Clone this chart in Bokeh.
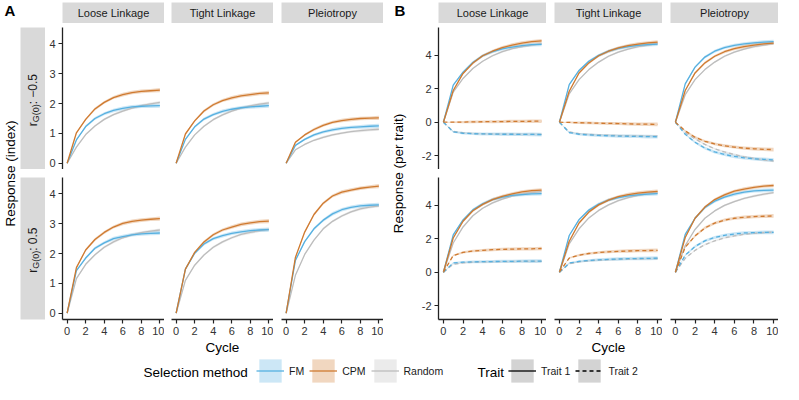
import math
from bokeh.plotting import figure
from bokeh.models import Range1d, FixedTicker, Label, Legend, LegendItem
from bokeh.layouts import row, column
from bokeh.embed import file_html
from bokeh.resources import INLINE

# ---------------- data ----------------
cycles = [0, 1, 2, 3, 4, 5, 6, 7, 8, 9, 10]
methods = ["FM", "CPM", "Random"]
architectures = ["Loose Linkage", "Tight Linkage", "Pleiotropy"]
rg_labels = ["\u22120.5", "0.5"]
traits = ["Trait 1", "Trait 2"]
x_ticks = [0, 2, 4, 6, 8, 10]
yA_ticks = [0, 1, 2, 3, 4]
yB_ticks = [-2, 0, 2, 4]

# Panel A: response (index), r_G(0) = -0.5
A_neg_loose_FM = [0, 0.78, 1.23, 1.50, 1.66, 1.77, 1.84, 1.89, 1.91, 1.92, 1.93]
A_neg_loose_CPM = [0, 1.02, 1.47, 1.82, 2.04, 2.20, 2.30, 2.37, 2.41, 2.43, 2.45]
A_neg_loose_Random = [0, 0.54, 0.96, 1.25, 1.47, 1.63, 1.75, 1.85, 1.93, 1.99, 2.04]
A_neg_tight_FM = [0, 0.80, 1.22, 1.48, 1.63, 1.74, 1.81, 1.86, 1.89, 1.91, 1.93]
A_neg_tight_CPM = [0, 0.98, 1.42, 1.75, 1.96, 2.10, 2.19, 2.26, 2.30, 2.34, 2.36]
A_neg_tight_Random = [0, 0.54, 0.95, 1.24, 1.46, 1.62, 1.75, 1.85, 1.92, 1.98, 2.02]
A_neg_plei_FM = [0, 0.60, 0.80, 0.95, 1.05, 1.12, 1.17, 1.20, 1.22, 1.24, 1.25]
A_neg_plei_CPM = [0, 0.70, 0.95, 1.13, 1.27, 1.37, 1.43, 1.47, 1.50, 1.51, 1.52]
A_neg_plei_Random = [0, 0.45, 0.63, 0.77, 0.87, 0.95, 1.01, 1.06, 1.09, 1.12, 1.14]
# Panel A: r_G(0) = 0.5
A_pos_loose_FM = [0, 1.43, 1.85, 2.18, 2.36, 2.50, 2.57, 2.63, 2.66, 2.68, 2.69]
A_pos_loose_CPM = [0, 1.53, 2.12, 2.47, 2.71, 2.89, 3.01, 3.08, 3.12, 3.15, 3.17]
A_pos_loose_Random = [0, 1.16, 1.64, 1.96, 2.21, 2.39, 2.53, 2.63, 2.70, 2.75, 2.79]
A_pos_tight_FM = [0, 1.48, 2.01, 2.32, 2.50, 2.60, 2.68, 2.73, 2.77, 2.79, 2.80]
A_pos_tight_CPM = [0, 1.48, 2.04, 2.39, 2.63, 2.79, 2.89, 2.98, 3.03, 3.07, 3.09]
A_pos_tight_Random = [0, 1.10, 1.61, 1.95, 2.21, 2.39, 2.53, 2.64, 2.71, 2.77, 2.81]
A_pos_plei_FM = [0, 1.77, 2.40, 2.83, 3.12, 3.33, 3.47, 3.55, 3.60, 3.62, 3.63]
A_pos_plei_CPM = [0, 1.87, 2.72, 3.31, 3.69, 3.93, 4.06, 4.13, 4.19, 4.23, 4.26]
A_pos_plei_Random = [0, 1.27, 1.97, 2.45, 2.83, 3.08, 3.26, 3.40, 3.50, 3.56, 3.60]

# Panel B: response per trait, r_G(0) = -0.5
B_neg_loose_FM_t1 = [0, 2.22, 3.00, 3.58, 3.98, 4.22, 4.39, 4.50, 4.58, 4.64, 4.66]
B_neg_loose_CPM_t1 = [0, 1.90, 2.92, 3.54, 3.98, 4.25, 4.47, 4.62, 4.74, 4.82, 4.87]
B_neg_loose_Random_t1 = [0, 1.80, 2.62, 3.22, 3.65, 3.98, 4.22, 4.40, 4.53, 4.62, 4.70]
B_neg_loose_FM_t2 = [0, -0.58, -0.66, -0.69, -0.70, -0.71, -0.72, -0.72, -0.73, -0.73, -0.74]
B_neg_loose_CPM_t2 = [0, 0.00, 0.01, 0.02, 0.03, 0.03, 0.04, 0.05, 0.05, 0.06, 0.06]
B_neg_loose_Random_t2 = [0, -0.55, -0.63, -0.67, -0.69, -0.70, -0.71, -0.72, -0.72, -0.73, -0.73]
B_neg_tight_FM_t1 = [0, 2.25, 3.10, 3.65, 4.00, 4.25, 4.42, 4.53, 4.60, 4.65, 4.68]
B_neg_tight_CPM_t1 = [0, 1.85, 2.95, 3.55, 3.98, 4.25, 4.45, 4.58, 4.68, 4.75, 4.80]
B_neg_tight_Random_t1 = [0, 1.70, 2.55, 3.15, 3.60, 3.95, 4.20, 4.38, 4.52, 4.62, 4.70]
B_neg_tight_FM_t2 = [0, -0.62, -0.72, -0.76, -0.79, -0.81, -0.83, -0.84, -0.85, -0.86, -0.87]
B_neg_tight_CPM_t2 = [0, -0.01, -0.03, -0.04, -0.06, -0.07, -0.08, -0.10, -0.11, -0.12, -0.13]
B_neg_tight_Random_t2 = [0, -0.58, -0.68, -0.73, -0.76, -0.78, -0.80, -0.81, -0.82, -0.83, -0.84]
B_neg_plei_FM_t1 = [0, 2.30, 3.30, 3.90, 4.25, 4.47, 4.60, 4.69, 4.75, 4.80, 4.83]
B_neg_plei_CPM_t1 = [0, 1.90, 2.95, 3.55, 3.95, 4.22, 4.40, 4.53, 4.62, 4.69, 4.74]
B_neg_plei_Random_t1 = [0, 1.65, 2.55, 3.15, 3.60, 3.95, 4.20, 4.38, 4.52, 4.62, 4.70]
B_neg_plei_FM_t2 = [0, -0.72, -1.20, -1.55, -1.78, -1.93, -2.05, -2.13, -2.19, -2.22, -2.26]
B_neg_plei_CPM_t2 = [0, -0.52, -0.90, -1.14, -1.30, -1.41, -1.49, -1.55, -1.59, -1.62, -1.64]
B_neg_plei_Random_t2 = [0, -0.62, -1.00, -1.33, -1.59, -1.78, -1.93, -2.07, -2.17, -2.26, -2.32]
# Panel B: r_G(0) = 0.5
B_pos_loose_FM_t1 = [0, 2.23, 3.13, 3.73, 4.10, 4.35, 4.50, 4.60, 4.65, 4.69, 4.71]
B_pos_loose_CPM_t1 = [0, 2.05, 3.05, 3.68, 4.06, 4.35, 4.54, 4.69, 4.81, 4.88, 4.92]
B_pos_loose_Random_t1 = [0, 1.75, 2.71, 3.38, 3.83, 4.15, 4.38, 4.56, 4.67, 4.77, 4.83]
B_pos_loose_FM_t2 = [0, 0.56, 0.60, 0.62, 0.63, 0.64, 0.65, 0.65, 0.66, 0.66, 0.67]
B_pos_loose_CPM_t2 = [0, 1.00, 1.19, 1.27, 1.31, 1.35, 1.37, 1.38, 1.40, 1.40, 1.42]
B_pos_loose_Random_t2 = [0, 0.48, 0.56, 0.60, 0.62, 0.63, 0.64, 0.64, 0.65, 0.65, 0.65]
B_pos_tight_FM_t1 = [0, 2.20, 3.15, 3.72, 4.08, 4.32, 4.47, 4.57, 4.63, 4.67, 4.70]
B_pos_tight_CPM_t1 = [0, 1.85, 2.95, 3.60, 4.03, 4.32, 4.52, 4.65, 4.74, 4.80, 4.84]
B_pos_tight_Random_t1 = [0, 1.70, 2.60, 3.25, 3.70, 4.03, 4.28, 4.46, 4.60, 4.70, 4.77]
B_pos_tight_FM_t2 = [0, 0.55, 0.65, 0.70, 0.74, 0.77, 0.79, 0.81, 0.82, 0.83, 0.84]
B_pos_tight_CPM_t2 = [0, 0.85, 1.02, 1.12, 1.18, 1.22, 1.25, 1.27, 1.29, 1.30, 1.31]
B_pos_tight_Random_t2 = [0, 0.50, 0.62, 0.68, 0.72, 0.75, 0.77, 0.79, 0.80, 0.81, 0.82]
B_pos_plei_FM_t1 = [0, 2.27, 3.23, 3.87, 4.25, 4.50, 4.67, 4.79, 4.87, 4.90, 4.92]
B_pos_plei_CPM_t1 = [0, 2.08, 3.23, 3.90, 4.35, 4.63, 4.85, 4.98, 5.08, 5.15, 5.19]
B_pos_plei_Random_t1 = [0, 1.60, 2.56, 3.23, 3.67, 4.00, 4.23, 4.42, 4.56, 4.67, 4.77]
B_pos_plei_FM_t2 = [0, 1.02, 1.54, 1.88, 2.08, 2.21, 2.29, 2.35, 2.37, 2.38, 2.38]
B_pos_plei_CPM_t2 = [0, 1.50, 2.17, 2.65, 2.94, 3.12, 3.23, 3.29, 3.33, 3.35, 3.37]
B_pos_plei_Random_t2 = [0, 0.83, 1.31, 1.65, 1.88, 2.06, 2.17, 2.27, 2.33, 2.37, 2.40]

# standard errors (ribbon half-widths)
A_se_FM = [0, 0.03, 0.04, 0.05, 0.05, 0.06, 0.06, 0.06, 0.06, 0.07, 0.07]
A_se_CPM = [0, 0.03, 0.04, 0.05, 0.05, 0.05, 0.06, 0.06, 0.06, 0.06, 0.07]
A_se_Random = [0, 0.02, 0.03, 0.03, 0.04, 0.04, 0.04, 0.04, 0.05, 0.05, 0.05]
B_se_FM = [0, 0.05, 0.07, 0.08, 0.09, 0.09, 0.10, 0.10, 0.10, 0.11, 0.11]
B_se_CPM = [0, 0.05, 0.07, 0.08, 0.08, 0.09, 0.09, 0.10, 0.10, 0.10, 0.11]
B_se_Random = [0, 0.03, 0.04, 0.05, 0.05, 0.06, 0.06, 0.06, 0.07, 0.07, 0.07]

A_series = [
    [{"FM": A_neg_loose_FM, "CPM": A_neg_loose_CPM, "Random": A_neg_loose_Random},
     {"FM": A_neg_tight_FM, "CPM": A_neg_tight_CPM, "Random": A_neg_tight_Random},
     {"FM": A_neg_plei_FM, "CPM": A_neg_plei_CPM, "Random": A_neg_plei_Random}],
    [{"FM": A_pos_loose_FM, "CPM": A_pos_loose_CPM, "Random": A_pos_loose_Random},
     {"FM": A_pos_tight_FM, "CPM": A_pos_tight_CPM, "Random": A_pos_tight_Random},
     {"FM": A_pos_plei_FM, "CPM": A_pos_plei_CPM, "Random": A_pos_plei_Random}],
]
B_series = [
    [{"FM": (B_neg_loose_FM_t1, B_neg_loose_FM_t2), "CPM": (B_neg_loose_CPM_t1, B_neg_loose_CPM_t2),
      "Random": (B_neg_loose_Random_t1, B_neg_loose_Random_t2)},
     {"FM": (B_neg_tight_FM_t1, B_neg_tight_FM_t2), "CPM": (B_neg_tight_CPM_t1, B_neg_tight_CPM_t2),
      "Random": (B_neg_tight_Random_t1, B_neg_tight_Random_t2)},
     {"FM": (B_neg_plei_FM_t1, B_neg_plei_FM_t2), "CPM": (B_neg_plei_CPM_t1, B_neg_plei_CPM_t2),
      "Random": (B_neg_plei_Random_t1, B_neg_plei_Random_t2)}],
    [{"FM": (B_pos_loose_FM_t1, B_pos_loose_FM_t2), "CPM": (B_pos_loose_CPM_t1, B_pos_loose_CPM_t2),
      "Random": (B_pos_loose_Random_t1, B_pos_loose_Random_t2)},
     {"FM": (B_pos_tight_FM_t1, B_pos_tight_FM_t2), "CPM": (B_pos_tight_CPM_t1, B_pos_tight_CPM_t2),
      "Random": (B_pos_tight_Random_t1, B_pos_tight_Random_t2)},
     {"FM": (B_pos_plei_FM_t1, B_pos_plei_FM_t2), "CPM": (B_pos_plei_CPM_t1, B_pos_plei_CPM_t2),
      "Random": (B_pos_plei_Random_t1, B_pos_plei_Random_t2)}],
]
A_se = {"FM": A_se_FM, "CPM": A_se_CPM, "Random": A_se_Random}
B_se = {"FM": B_se_FM, "CPM": B_se_CPM, "Random": B_se_Random}

# ---------------- style ----------------
FONT = "Liberation Sans"
STRIP = "#D9D9D9"
COL = {"FM": "#56B0E0", "CPM": "#CF7A30", "Random": "#BDBDBD"}
TRAIT_DASH = {"Trait 1": "solid", "Trait 2": "4 3"}
DRAW_ORDER = ["Random", "FM", "CPM"]
NAN = float("nan")

FH = 142          # panel frame height
STRIP_H = 23
TOP_GAP = 4
ROW_GAP = 8
BOTTOM_B = 38
TOTAL_H = STRIP_H + TOP_GAP + FH + ROW_GAP + FH + BOTTOM_B

CW = {"r": 0.333, "G": 0.778, "(": 0.333, ")": 0.333, " ": 0.278, ":": 0.278,
      "\u2212": 0.584, ".": 0.278}


def tw(s, size):
    return sum(CW.get(c, 0.556) for c in s) * size


def blank(w, h, lb=0, rb=0, tb=0, bb=0, bg="white", xr=(0, 1), yr=(0, 1)):
    p = figure(width=w, height=h, title=None, x_range=Range1d(*xr), y_range=Range1d(*yr),
               x_axis_location=None, y_axis_location=None, toolbar_location=None,
               output_backend="svg", min_border_left=lb, min_border_right=rb,
               min_border_top=tb, min_border_bottom=bb)
    p.outline_line_color = None
    p.background_fill_color = bg
    p.border_fill_color = "white"
    p.grid.visible = False
    return p


def col_strip(lb, fw, text):
    p = blank(lb + fw, STRIP_H, lb=lb, tb=2, bg=STRIP)
    p.add_layout(Label(x=0.5, y=0.5, text=text, text_align="center", text_baseline="middle",
                       text_font=FONT, text_font_size="11px", text_color="#1A1A1A"))
    return p


def row_strip(tb, bb, rg):
    p = blank(25, tb + FH + bb, tb=tb, bb=bb, bg=STRIP, xr=(0, 25), yr=(0, FH))
    parts = [("r", 12, 0), ("G(0)", 9, 3.5), (" : " + rg, 12, 0)]
    total = sum(tw(s, sz) for s, sz, _ in parts)
    y = FH / 2 - total / 2
    for s, sz, dx in parts:
        p.add_layout(Label(x=12 + dx, y=y, text=s, angle=math.pi / 2, text_align="left",
                           text_baseline="middle", text_font=FONT,
                           text_font_size=f"{sz}px", text_color="#1A1A1A"))
        y += tw(s, sz)
    return p


def panel(lb, fw, tb, bb, yr, yticks, left, bottom, xlabel):
    p = figure(width=lb + fw, height=tb + FH + bb, title=None,
               x_range=Range1d(-0.5, 10.5), y_range=Range1d(*yr),
               x_axis_location="below" if bottom else None,
               y_axis_location="left" if left else None,
               toolbar_location=None, output_backend="svg",
               min_border_left=lb, min_border_right=0, min_border_top=tb, min_border_bottom=bb)
    p.outline_line_color = None
    p.grid.visible = False
    p.background_fill_color = "white"
    p.border_fill_color = "white"
    for ax in p.axis:
        ax.axis_line_color = "#222222"
        ax.axis_line_width = 1.3
        ax.major_tick_line_color = "#222222"
        ax.major_tick_line_width = 1.2
        ax.major_tick_out = 4
        ax.major_tick_in = 0
        ax.minor_tick_line_color = None
        ax.major_label_text_font = FONT
        ax.major_label_text_font_size = "11px"
        ax.major_label_text_color = "#333333"
        ax.major_label_standoff = 3
    if bottom:
        p.xaxis.ticker = FixedTicker(ticks=x_ticks)
        if xlabel:
            p.xaxis.axis_label = xlabel
            p.xaxis.axis_label_text_font = FONT
            p.xaxis.axis_label_text_font_size = "13.5px"
            p.xaxis.axis_label_text_font_style = "normal"
            p.xaxis.axis_label_text_color = "black"
            p.xaxis.axis_label_standoff = 2
    if left:
        p.yaxis.ticker = FixedTicker(ticks=yticks)
        p.yaxis.major_label_overrides = {t: str(t) for t in yticks}
    return p


def add_curves(p, curves, se):
    # curves: list of (method, values, dash)
    for m, vals, dash in curves:
        s = se[m]
        p.varea(x=cycles, y1=[v - e for v, e in zip(vals, s)], y2=[v + e for v, e in zip(vals, s)],
                fill_color=COL[m], fill_alpha=0.3)
    for m, vals, dash in curves:
        p.line(x=cycles, y=vals, line_color=COL[m], line_width=1.3, line_dash=dash)


# ---------------- blocks A and B ----------------
A_yr = (-0.21, 4.55)
B_yr = (-2.83, 5.67)
A_lb = [17, 7, 8]
A_fw = 102
B_lb = [22, 8, 8]
B_fw = 108

A_cols = []
for j, arch in enumerate(architectures):
    strip = col_strip(A_lb[j], A_fw, arch)
    pt = panel(A_lb[j], A_fw, TOP_GAP, 0, A_yr, yA_ticks, j == 0, False, None)
    add_curves(pt, [(m, A_series[0][j][m], "solid") for m in DRAW_ORDER], A_se)
    pb = panel(A_lb[j], A_fw, ROW_GAP, BOTTOM_B, A_yr, yA_ticks, j == 0, True,
               "Cycle" if j == 1 else None)
    add_curves(pb, [(m, A_series[1][j][m], "solid") for m in DRAW_ORDER], A_se)
    A_cols.append(column(strip, pt, pb, spacing=0))

B_cols = []
for j, arch in enumerate(architectures):
    strip = col_strip(B_lb[j], B_fw, arch)
    figs = []
    for i in range(2):
        if i == 0:
            p = panel(B_lb[j], B_fw, TOP_GAP, 0, B_yr, yB_ticks, j == 0, False, None)
        else:
            p = panel(B_lb[j], B_fw, ROW_GAP, BOTTOM_B, B_yr, yB_ticks, j == 0, True,
                      "Cycle" if j == 1 else None)
        curves = []
        for k, tr in enumerate(traits):
            for m in DRAW_ORDER:
                curves.append((m, B_series[i][j][m][k], TRAIT_DASH[tr]))
        add_curves(p, curves, B_se)
        figs.append(p)
    B_cols.append(column(strip, figs[0], figs[1], spacing=0))

# left label areas
A_lab = blank(20, TOTAL_H, xr=(0, 20), yr=(0, TOTAL_H))
A_lab.add_layout(Label(x=4, y=TOTAL_H - 1, text="A", text_baseline="top", text_font=FONT,
                       text_font_size="15px", text_font_style="bold", text_color="black"))
mid_y = TOTAL_H - (STRIP_H + TOP_GAP + (2 * FH + ROW_GAP) / 2)
A_lab.add_layout(Label(x=10, y=mid_y, text="Response (index)", angle=math.pi / 2,
                       text_align="center", text_baseline="middle", text_font=FONT,
                       text_font_size="13.5px", text_color="black"))

A_strips = column(row_strip(STRIP_H + TOP_GAP, 0, rg_labels[0]),
                  row_strip(ROW_GAP, BOTTOM_B, rg_labels[1]), spacing=0)

B_lab = blank(33, TOTAL_H, xr=(0, 33), yr=(0, TOTAL_H))
B_lab.add_layout(Label(x=11, y=TOTAL_H - 1, text="B", text_baseline="top", text_font=FONT,
                       text_font_size="15px", text_font_style="bold", text_color="black"))
B_lab.add_layout(Label(x=15, y=mid_y, text="Response (per trait)", angle=math.pi / 2,
                       text_align="center", text_baseline="middle", text_font=FONT,
                       text_font_size="13.5px", text_color="black"))

top = row(A_lab, A_strips, A_cols[0], A_cols[1], A_cols[2],
          B_lab, B_cols[0], B_cols[1], B_cols[2], spacing=0)

# ---------------- legend ----------------
LW, LH = 783, 27
leg = blank(LW, LH, xr=(0, LW), yr=(0, LH))
leg.add_layout(Label(x=143, y=12.5, text="Selection method", text_baseline="middle",
                     text_font=FONT, text_font_size="13.5px", text_color="black"))
leg.add_layout(Label(x=477, y=12.5, text="Trait", text_baseline="middle",
                     text_font=FONT, text_font_size="13.5px", text_color="black"))

# legend-only renderers (no visible data)
m_items = []
for m in methods:
    r1 = leg.varea(x=[NAN], y1=[NAN], y2=[NAN], fill_color=COL[m], fill_alpha=0.3)
    r2 = leg.line(x=[NAN], y=[NAN], line_color=COL[m], line_width=1.3)
    m_items.append(LegendItem(label=m, renderers=[r1, r2]))
t_items = []
for tr in traits:
    r1 = leg.varea(x=[NAN], y1=[NAN], y2=[NAN], fill_color="#D3D3D3", fill_alpha=1.0)
    r2 = leg.line(x=[NAN], y=[NAN], line_color="black", line_width=1.3, line_dash=TRAIT_DASH[tr])
    t_items.append(LegendItem(label=tr, renderers=[r1, r2]))


def make_legend(items, x):
    return Legend(items=items, location=(x, -1), orientation="horizontal",
                  glyph_width=28, glyph_height=29, label_height=29, label_width=5,
                  label_standoff=5, spacing=5, padding=0, margin=0,
                  border_line_color=None, background_fill_alpha=0,
                  label_text_font=FONT, label_text_font_size="10.5px",
                  label_text_color="#1A1A1A")


leg.add_layout(make_legend(m_items, 256))
leg.add_layout(make_legend(t_items, 508))

layout = column(top, leg, spacing=0)

open("out.html", "w").write(file_html(layout, INLINE))
